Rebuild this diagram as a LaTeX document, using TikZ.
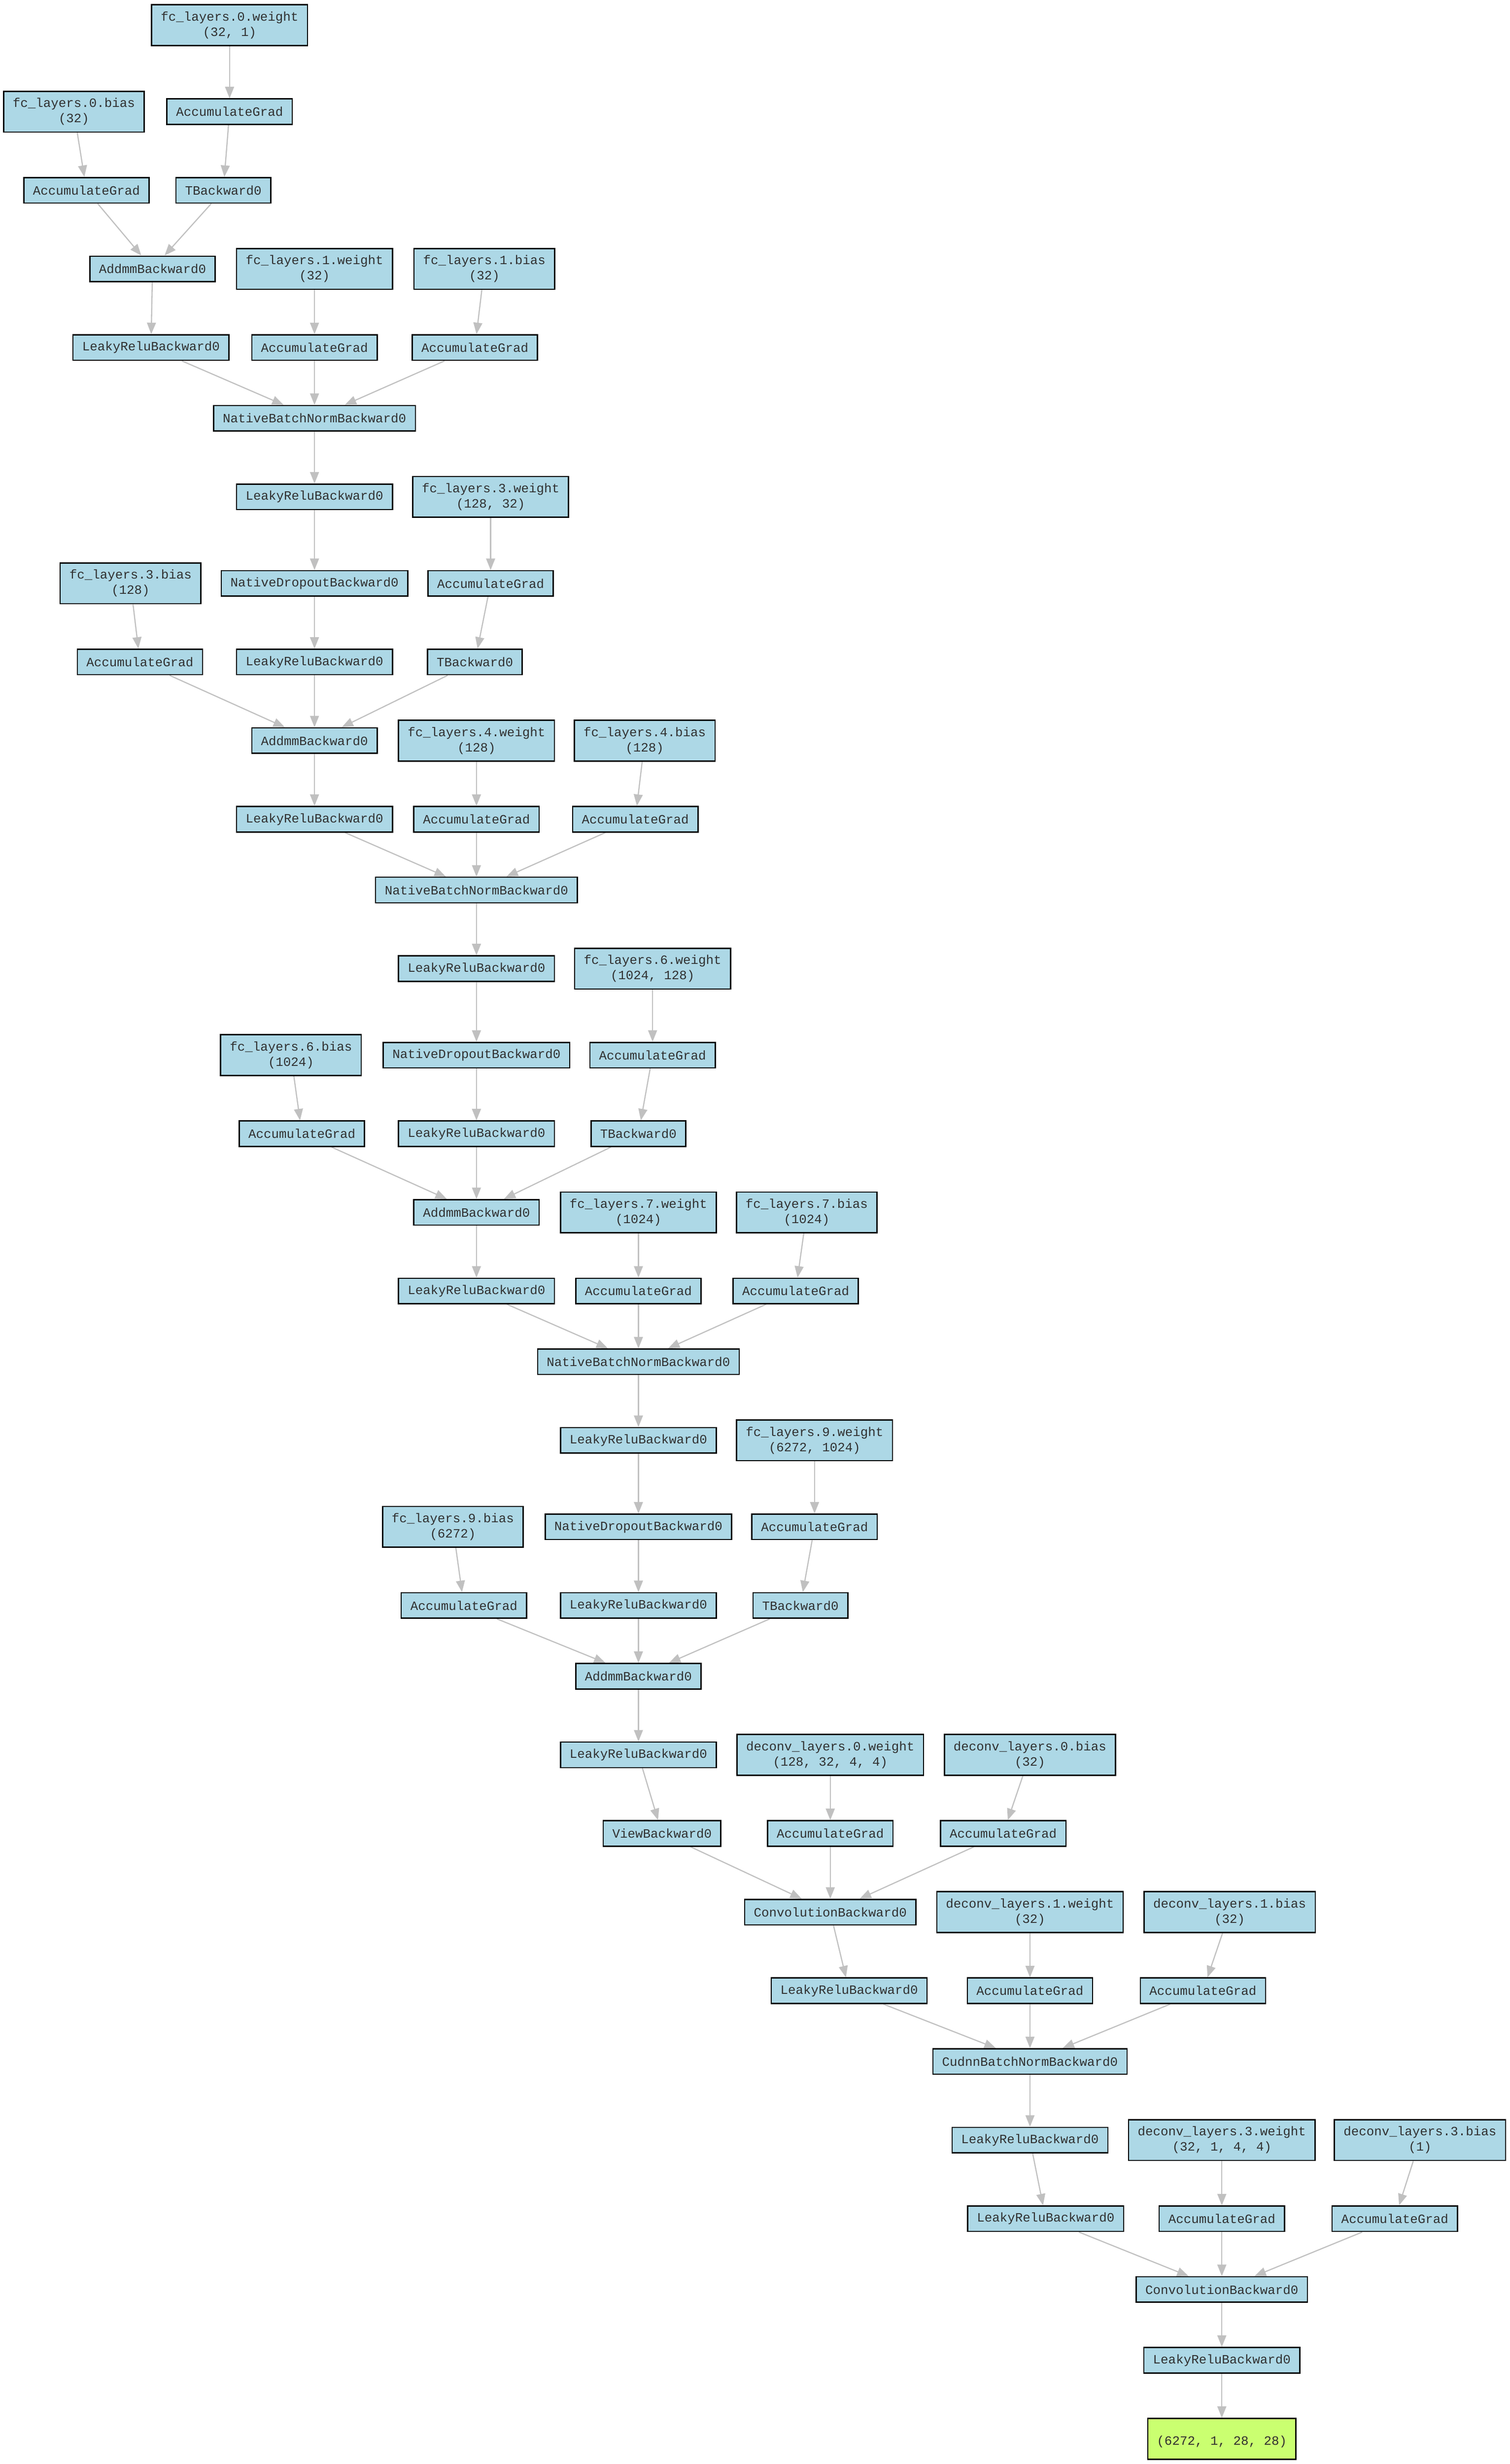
\documentclass[tikz,border=0pt]{standalone}
\usepackage{fontspec}
\newfontfamily\gvfont{Liberation Mono}
\usetikzlibrary{arrows.meta}
\definecolor{nodeblue}{HTML}{ADD8E6}
\definecolor{outgreen}{HTML}{CAFF70}
\definecolor{edgegray}{HTML}{C0C0C0}
\definecolor{textgray}{HTML}{303030}
\pgfdeclarelayer{background layer}
\pgfsetlayers{background layer,main}
\tikzstyle{op}=[rectangle,draw=black,fill=nodeblue,text=textgray,line width=1pt,inner xsep=7.2pt,inner ysep=2pt,minimum height=20pt,font=\gvfont\fontsize{10}{12}\selectfont]
\tikzstyle{param}=[op,align=center,minimum height=32pt]
\tikzstyle{result}=[param,fill=outgreen]
\tikzstyle{edge}=[draw=edgegray,line width=0.9pt,-{Triangle[length=9pt,width=7pt]}]

\begin{document}
\begin{tikzpicture}[x=1.235pt,y=-1.235pt]
			\useasboundingbox (0,0) rectangle (960,1567);
			% fc layers 0 and 1
			\node (w0) at (146,16) [param] {fc\_layers.0.weight\\(32, 1)};
			\node (aw0) at (146,71) [op] {AccumulateGrad};
			\node (b0) at (47,71) [param] {fc\_layers.0.bias\\(32)};
			\node (ab0) at (55,121) [op] {AccumulateGrad};
			\node (t0) at (142,121) [op] {TBackward0};
			\node (mm0) at (97,171) [op] {AddmmBackward0};
			\node (w1) at (200,171) [param] {fc\_layers.1.weight\\(32)};
			\node (b1) at (308,171) [param] {fc\_layers.1.bias\\(32)};
			\node (r0) at (96,221) [op] {LeakyReluBackward0};
			\node (aw1) at (200,221) [op] {AccumulateGrad};
			\node (ab1) at (302,221) [op] {AccumulateGrad};
			\node (bn1) at (200,266) [op] {NativeBatchNormBackward0};
			% fc layers 3 and 4
			\node (r1) at (200,316) [op] {LeakyReluBackward0};
			\node (w3) at (312,316) [param] {fc\_layers.3.weight\\(128, 32)};
			\node (d2) at (200,371) [op] {NativeDropoutBackward0};
			\node (aw3) at (312,371) [op] {AccumulateGrad};
			\node (b3) at (83,371) [param] {fc\_layers.3.bias\\(128)};
			\node (ab3) at (89,421) [op] {AccumulateGrad};
			\node (r2) at (200,421) [op] {LeakyReluBackward0};
			\node (t3) at (302,421) [op] {TBackward0};
			\node (mm3) at (200,471) [op] {AddmmBackward0};
			\node (w4) at (303,471) [param] {fc\_layers.4.weight\\(128)};
			\node (b4) at (410,471) [param] {fc\_layers.4.bias\\(128)};
			\node (r3) at (200,521) [op] {LeakyReluBackward0};
			\node (aw4) at (303,521) [op] {AccumulateGrad};
			\node (ab4) at (404,521) [op] {AccumulateGrad};
			\node (bn4) at (303,566) [op] {NativeBatchNormBackward0};
			% fc layers 6 and 7
			\node (r4) at (303,616) [op] {LeakyReluBackward0};
			\node (w6) at (415,616) [param] {fc\_layers.6.weight\\(1024, 128)};
			\node (d5) at (303,671) [op] {NativeDropoutBackward0};
			\node (aw6) at (415,671) [op] {AccumulateGrad};
			\node (b6) at (185,671) [param] {fc\_layers.6.bias\\(1024)};
			\node (ab6) at (192,721) [op] {AccumulateGrad};
			\node (r5) at (303,721) [op] {LeakyReluBackward0};
			\node (t6) at (406,721) [op] {TBackward0};
			\node (mm6) at (303,771) [op] {AddmmBackward0};
			\node (w7) at (406,771) [param] {fc\_layers.7.weight\\(1024)};
			\node (b7) at (513,771) [param] {fc\_layers.7.bias\\(1024)};
			\node (r6) at (303,821) [op] {LeakyReluBackward0};
			\node (aw7) at (406,821) [op] {AccumulateGrad};
			\node (ab7) at (506,821) [op] {AccumulateGrad};
			\node (bn7) at (406,866) [op] {NativeBatchNormBackward0};
			% fc layer 9
			\node (r7) at (406,916) [op] {LeakyReluBackward0};
			\node (w9) at (518,916) [param] {fc\_layers.9.weight\\(6272, 1024)};
			\node (d8) at (406,971) [op] {NativeDropoutBackward0};
			\node (aw9) at (518,971) [op] {AccumulateGrad};
			\node (b9) at (288,971) [param] {fc\_layers.9.bias\\(6272)};
			\node (ab9) at (295,1021) [op] {AccumulateGrad};
			\node (r8) at (406,1021) [op] {LeakyReluBackward0};
			\node (t9) at (509,1021) [op] {TBackward0};
			\node (mm9) at (406,1066) [op] {AddmmBackward0};
			% deconv layers
			\node (r9) at (406,1116) [op] {LeakyReluBackward0};
			\node (dw0) at (528,1116) [param] {deconv\_layers.0.weight\\(128, 32, 4, 4)};
			\node (db0) at (655,1116) [param] {deconv\_layers.0.bias\\(32)};
			\node (v) at (421,1166) [op] {ViewBackward0};
			\node (adw0) at (528,1166) [op] {AccumulateGrad};
			\node (adb0) at (638,1166) [op] {AccumulateGrad};
			\node (cv0) at (528,1216) [op] {ConvolutionBackward0};
			\node (dw1) at (655,1216) [param] {deconv\_layers.1.weight\\(32)};
			\node (db1) at (782,1216) [param] {deconv\_layers.1.bias\\(32)};
			\node (r10) at (540,1266) [op] {LeakyReluBackward0};
			\node (adw1) at (655,1266) [op] {AccumulateGrad};
			\node (adb1) at (765,1266) [op] {AccumulateGrad};
			\node (bn10) at (655,1311) [op] {CudnnBatchNormBackward0};
			\node (r11) at (655,1361) [op] {LeakyReluBackward0};
			\node (dw3) at (777,1361) [param] {deconv\_layers.3.weight\\(32, 1, 4, 4)};
			\node (db3) at (903,1361) [param] {deconv\_layers.3.bias\\(1)};
			\node (r12) at (665,1411) [op] {LeakyReluBackward0};
			\node (adw3) at (777,1411) [op] {AccumulateGrad};
			\node (adb3) at (887,1411) [op] {AccumulateGrad};
			\node (cv3) at (777,1456) [op] {ConvolutionBackward0};
			\node (r13) at (777,1501) [op] {LeakyReluBackward0};
			\node (out) at (777,1551) [result] {~\\(6272, 1, 28, 28)};
			\begin{pgfonlayer}{background layer}
			\draw [edge] (w0) -- (aw0);
			\draw [edge] (aw0) -- (t0);
			\draw [edge] (t0) -- (mm0);
			\draw [edge] (b0) -- (ab0);
			\draw [edge] (ab0) -- (mm0);
			\draw [edge] (mm0) -- (r0);
			\draw [edge] (r0) -- (bn1);
			\draw [edge] (w1) -- (aw1);
			\draw [edge] (aw1) -- (bn1);
			\draw [edge] (b1) -- (ab1);
			\draw [edge] (ab1) -- (bn1);
			\draw [edge] (bn1) -- (r1);
			\draw [edge] (r1) -- (d2);
			\draw [edge] (d2) -- (r2);
			\draw [edge] (r2) -- (mm3);
			\draw [edge] (w3) -- (aw3);
			\draw [edge] (aw3) -- (t3);
			\draw [edge] (t3) -- (mm3);
			\draw [edge] (b3) -- (ab3);
			\draw [edge] (ab3) -- (mm3);
			\draw [edge] (mm3) -- (r3);
			\draw [edge] (r3) -- (bn4);
			\draw [edge] (w4) -- (aw4);
			\draw [edge] (aw4) -- (bn4);
			\draw [edge] (b4) -- (ab4);
			\draw [edge] (ab4) -- (bn4);
			\draw [edge] (bn4) -- (r4);
			\draw [edge] (r4) -- (d5);
			\draw [edge] (d5) -- (r5);
			\draw [edge] (r5) -- (mm6);
			\draw [edge] (w6) -- (aw6);
			\draw [edge] (aw6) -- (t6);
			\draw [edge] (t6) -- (mm6);
			\draw [edge] (b6) -- (ab6);
			\draw [edge] (ab6) -- (mm6);
			\draw [edge] (mm6) -- (r6);
			\draw [edge] (r6) -- (bn7);
			\draw [edge] (w7) -- (aw7);
			\draw [edge] (aw7) -- (bn7);
			\draw [edge] (b7) -- (ab7);
			\draw [edge] (ab7) -- (bn7);
			\draw [edge] (bn7) -- (r7);
			\draw [edge] (r7) -- (d8);
			\draw [edge] (d8) -- (r8);
			\draw [edge] (r8) -- (mm9);
			\draw [edge] (w9) -- (aw9);
			\draw [edge] (aw9) -- (t9);
			\draw [edge] (t9) -- (mm9);
			\draw [edge] (b9) -- (ab9);
			\draw [edge] (ab9) -- (mm9);
			\draw [edge] (mm9) -- (r9);
			\draw [edge] (r9) -- (v);
			\draw [edge] (v) -- (cv0);
			\draw [edge] (dw0) -- (adw0);
			\draw [edge] (adw0) -- (cv0);
			\draw [edge] (db0) -- (adb0);
			\draw [edge] (adb0) -- (cv0);
			\draw [edge] (cv0) -- (r10);
			\draw [edge] (r10) -- (bn10);
			\draw [edge] (dw1) -- (adw1);
			\draw [edge] (adw1) -- (bn10);
			\draw [edge] (db1) -- (adb1);
			\draw [edge] (adb1) -- (bn10);
			\draw [edge] (bn10) -- (r11);
			\draw [edge] (r11) -- (r12);
			\draw [edge] (r12) -- (cv3);
			\draw [edge] (dw3) -- (adw3);
			\draw [edge] (adw3) -- (cv3);
			\draw [edge] (db3) -- (adb3);
			\draw [edge] (adb3) -- (cv3);
			\draw [edge] (cv3) -- (r13);
			\draw [edge] (r13) -- (out);
			\end{pgfonlayer}
		\end{tikzpicture}
\end{document}
